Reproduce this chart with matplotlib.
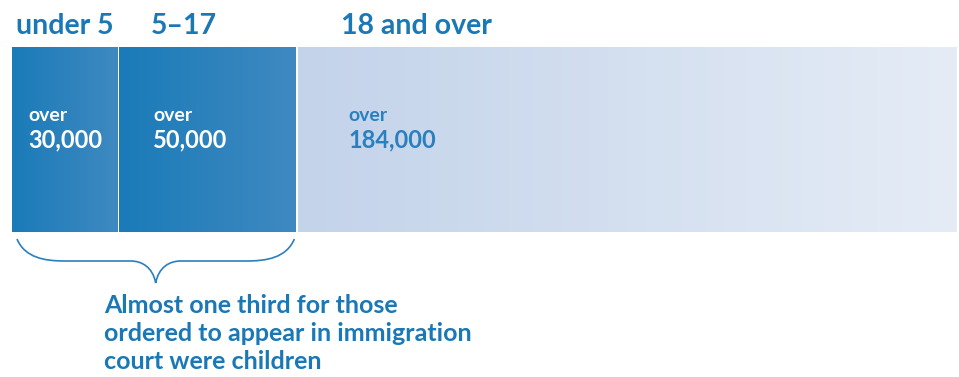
import matplotlib
matplotlib.use('Agg')
import matplotlib.pyplot as plt
from matplotlib.colors import LinearSegmentedColormap
from matplotlib.path import Path
from matplotlib.patches import PathPatch
import numpy as np

groups = ['under 5', '5\u201317', '18 and over']
values = [30000, 50000, 184000]
value_labels = ['30,000', '50,000', '184,000']
note_lines = ['Almost one third for those', 'ordered to appear in immigration',
              'court were children']

W, H = 959, 377
dark = '#1a78b6'
fig = plt.figure(figsize=(W / 100, H / 100), dpi=100)

# bar axis: pixels 12..957 wide, 47..232 tall
bx0, bx1, by0, by1 = 12, 957, 47, 232
ax = fig.add_axes([bx0 / W, 1 - by1 / H, (bx1 - bx0) / W, (by1 - by0) / H])
total = sum(values)
ax.axis('off')

grad = np.linspace(0, 1, 256).reshape(1, -1)
cm_child = LinearSegmentedColormap.from_list('c', ['#1a7bb8', '#3f89c1'])
cm_adult = LinearSegmentedColormap.from_list('a', ['#c3d3ea', '#e5ecf6'])
gap = 2 * total / (bx1 - bx0)

left = 0
lefts = []
for i, v in enumerate(values):
    cm = cm_child if i < 2 else cm_adult
    r = left + v - (gap if i < 2 else 0)
    ax.imshow(grad, cmap=cm, aspect='auto', extent=(left, r, 0, 1), interpolation='bilinear')
    lefts.append(left)
    left += v
ax.set_xlim(0, total)
ax.set_ylim(0, 1)

# overlay in pixel coordinates for text and brace
ov = fig.add_axes([0, 0, 1, 1])
ov.set_xlim(0, W)
ov.set_ylim(H, 0)
ov.axis('off')

def px(v):
    return bx0 + (bx1 - bx0) * v / total

font = 'Lato'
head_off = [4, 31, 43]
val_off = [16, 34, 50]
for i, g in enumerate(groups):
    x0 = px(lefts[i])
    ov.text(x0 + head_off[i], 34, g, fontsize=20.5, fontweight='bold', color=dark,
            family=font, va='baseline', ha='left')
    c = 'white' if i < 2 else '#2a80bf'
    ov.text(x0 + val_off[i], 121, 'over', fontsize=14, fontweight='bold', color=c,
            family=font, va='baseline', ha='left')
    ov.text(x0 + val_off[i], 147, value_labels[i], fontsize=17, fontweight='bold', color=c,
            family=font, va='baseline', ha='left')

# brace under the children segments
xa = px(0) + 5
xb = px(values[0] + values[1]) - 4
xm = (xa + xb) / 2
yt, yf, yp = 239, 261, 283
verts = [(xa, yt), (xa + 8, yf - 3), (xa + 28, yf), (xa + 48, yf),
         (xm - 25, yf), (xm - 14, yf), (xm - 3, yf + 6), (xm, yp),
         (xm + 3, yf + 6), (xm + 14, yf), (xm + 25, yf),
         (xb - 48, yf), (xb - 28, yf), (xb - 8, yf - 3), (xb, yt)]
codes = [Path.MOVETO, Path.CURVE4, Path.CURVE4, Path.CURVE4,
         Path.LINETO, Path.CURVE4, Path.CURVE4, Path.CURVE4,
         Path.CURVE4, Path.CURVE4, Path.CURVE4,
         Path.LINETO, Path.CURVE4, Path.CURVE4, Path.CURVE4]
ov.add_patch(PathPatch(Path(verts, codes), fill=False, edgecolor='#2a7fbf', lw=1.2))

for k, line in enumerate(note_lines):
    ov.text(104, 313 + 28 * k, line, fontsize=18, fontweight='bold', color=dark, family=font,
            va='baseline', ha='left')

fig.savefig('out.png', dpi=100)
